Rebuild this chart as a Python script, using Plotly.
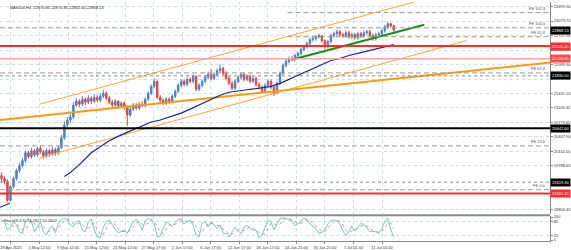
import plotly.graph_objects as go
import pandas as pd

# ---------------- data ----------------
first_open = 19569
closes = [19502, 19435, 19007, 19322, 19502, 19682, 19794, 19907, 20087, 19997,
          20132, 20042, 20177, 20109, 20019, 20132, 20064, 20154, 20087, 20199,
          20424, 20716, 20829, 20896, 21166, 21256, 21189, 21301, 21234, 21324,
          21256, 21346, 21279, 21369, 21436, 21324, 21234, 21166, 21256, 21144,
          21211, 21121, 20941, 21076, 21166, 21099, 21189, 21166, 21301, 21436,
          21593, 21706, 21346, 21279, 21211, 21301, 21256, 21369, 21481, 21616,
          21706, 21638, 21751, 21706, 21818, 21526, 21616, 21706, 21796, 21863,
          21773, 21863, 21953, 21998, 21886, 21773, 21661, 21549, 21706, 21796,
          21863, 21751, 21818, 21706, 21773, 21638, 21571, 21481, 21616, 21706,
          21571, 21436, 21661, 21886, 22066, 22156, 22223, 22201, 22291, 22336,
          22426, 22493, 22561, 22651, 22673, 22718, 22741, 22628, 22493, 22606,
          22741, 22786, 22830, 22763, 22741, 22808, 22718, 22763, 22696, 22786,
          22741, 22808, 22830, 22741, 22673, 22763, 22786, 22853, 22943, 23010,
          22965, 22868]
highs = [19637, 19547, 19480, 19345, 19547, 19727, 19862, 19974, 20132, 20132,
         20199, 20177, 20222, 20244, 20154, 20177, 20177, 20222, 20199, 20244,
         20492, 20806, 20896, 20964, 21234, 21324, 21301, 21369, 21346, 21391,
         21369, 21414, 21391, 21436, 21504, 21481, 21369, 21279, 21301, 21279,
         21256, 21256, 21166, 21121, 21211, 21211, 21234, 21256, 21346, 21481,
         21638, 21773, 21728, 21391, 21324, 21346, 21346, 21414, 21526, 21661,
         21751, 21751, 21796, 21796, 21863, 21841, 21661, 21751, 21841, 21931,
         21976, 21908, 21998, 22088, 22043, 21931, 21818, 21706, 21751, 21841,
         21908, 21908, 21863, 21863, 21818, 21818, 21683, 21616, 21661, 21751,
         21751, 21616, 21706, 21931, 22111, 22223, 22268, 22291, 22336, 22381,
         22471, 22538, 22606, 22696, 22718, 22763, 22786, 22763, 22651, 22651,
         22786, 22830, 22875, 22875, 22808, 22853, 22853, 22808, 22808, 22830,
         22830, 22853, 22875, 22875, 22786, 22808, 22830, 22898, 22988, 23055,
         23033, 22988]
lows = [19435, 19367, 18962, 18985, 19277, 19457, 19637, 19749, 19862, 19952,
        19952, 19997, 19997, 20064, 19952, 19974, 19997, 20019, 20019, 20042,
        20177, 20379, 20649, 20761, 20851, 21121, 21121, 21144, 21166, 21189,
        21189, 21211, 21234, 21234, 21324, 21279, 21189, 21099, 21121, 21099,
        21099, 21054, 20694, 20896, 21031, 21054, 21054, 21121, 21121, 21256,
        21391, 21549, 21301, 21211, 21166, 21166, 21189, 21211, 21324, 21436,
        21571, 21593, 21593, 21661, 21661, 21481, 21481, 21571, 21661, 21751,
        21728, 21728, 21818, 21908, 21841, 21728, 21616, 21504, 21504, 21661,
        21751, 21706, 21706, 21661, 21661, 21593, 21526, 21436, 21459, 21571,
        21526, 21369, 21414, 21616, 21841, 22021, 22111, 22156, 22156, 22246,
        22291, 22381, 22448, 22516, 22606, 22628, 22673, 22583, 22426, 22448,
        22561, 22696, 22741, 22718, 22696, 22696, 22673, 22673, 22651, 22651,
        22696, 22696, 22763, 22696, 22628, 22628, 22718, 22741, 22808, 22898,
        22920, 22830]

stoch_main = [87, 80, 43, 58, 80, 65, 36, 29, 80, 94,
              80, 36, 58, 80, 36, 22, 51, 60, 32, 72,
              90, 94, 90, 65, 58, 80, 84, 43, 36, 80,
              92, 43, 14, 11, 55, 80, 87, 65, 46, 32,
              36, 43, 29, 55, 80, 90, 72, 43, 84, 94,
              87, 72, 14, 18, 51, 80, 69, 60, 75, 88,
              92, 70, 80, 87, 65, 22, 14, 72, 80, 58,
              80, 65, 51, 65, 29, 29, 14, 36, 55, 40,
              29, 55, 65, 51, 43, 43, 10, 20, 50, 87,
              80, 45, 70, 93, 96, 94, 90, 82, 62, 70,
              85, 94, 90, 70, 60, 50, 30, 33, 45, 70,
              85, 87, 85, 70, 40, 20, 38, 62, 40, 58,
              72, 68, 50, 37, 38, 36, 29, 50, 80, 95,
              45, 14]

ma_bars = [21, 23, 26, 30, 33, 36, 40, 43, 46, 50, 53, 56, 60, 63, 66, 70, 73,
           76, 80, 83, 86, 90, 93, 96, 100, 103, 106, 110, 113, 116, 120, 123, 126, 131]
ma_vals = [19547, 19637, 19817, 20087, 20222, 20357, 20492, 20582, 20671, 20784,
           20829, 20896, 20986, 21076, 21166, 21301, 21391, 21459, 21504, 21526,
           21549, 21593, 21661, 21751, 21886, 21976, 22066, 22178, 22223, 22291,
           22358, 22403, 22448, 22538]

# trendlines: (bar, price) endpoints
upper_ch_bars, upper_ch_px = [12.8, 137.8], [21189, 23505]
lower_ch_bars, lower_ch_px = [12.8, 155.2], [19974, 22628]
mid_line_bars, mid_line_px = [-0.5, 183.2], [20829, 22133]
green_bars, green_px = [97.2, 141.2], [22201, 22988]
navy_bars, navy_px = [-0.5, 2.8], [18850, 18940]

# Fibonacci expansion levels
fe_names = ["FE 161.8", "FE 100.0", "FE 61.8", "FE 61.8", "FE 23.6", "FE 0.0"]
fe_prices = [23265, 22920, 22718, 21897, 20243, 19248]
fe_start_bar = [95.5, None, 95.5, None, None, None]

# horizontal price lines with axis boxes
solid_prices = [22505.45, 22220.05, 20642.60, 19165.15]
dotted_prices = [21830.50, 19419.30]
bid_price = 22868.13

price_ticks = [23399.50, 23073.75, 22747.90, 22415.40, 22089.30, 21757.05, 21431.20,
               21105.35, 20773.65, 20447.90, 20114.50, 19788.65, 18804.45]
date_ticks_bar = [3.17, 12.7, 22.23, 31.77, 41.3, 50.83, 60.37, 69.9, 79.43, 88.97,
                  98.5, 108.03, 117.57, 127.1]
date_labels = ["29 Apr 2025", "5 May 12:00", "9 May 12:00", "15 May 12:00", "21 May 12:00",
               "27 May 17:00", "2 Jun 17:00", "6 Jun 17:00", "12 Jun 17:00", "18 Jun 17:00",
               "24 Jun 21:00", "30 Jun 21:00", "7 Jul 01:00", "11 Jul 01:00"]

header = "NAS100,H4  22870.85 22870.85 22832.60 22868.13"
stoch_title = "Stoch(8,3,3) 14.2817 10.2607"

# ---------------- figure ----------------
bars = list(range(len(closes)))
opens = [first_open] + closes[:-1]
stoch_sig = pd.Series(stoch_main).rolling(3, min_periods=1).mean().tolist()

FONT = "Liberation Sans"
FS = 4
GRID = "#c6e3ea"
XR = [-0.5, 183.17]

fig = go.Figure()
fig.add_trace(go.Candlestick(
    x=bars, open=opens, high=highs, low=lows, close=closes,
    increasing=dict(line=dict(color="#4a84c8", width=1), fillcolor="#4a84c8"),
    decreasing=dict(line=dict(color="#e8443c", width=1), fillcolor="#e8443c"),
    whiskerwidth=0, xaxis="x", yaxis="y", hoverinfo="skip", showlegend=False))

def seg(xs, ys, color, width, dash="solid"):
    fig.add_trace(go.Scatter(x=xs, y=ys, mode="lines", xaxis="x", yaxis="y",
                             line=dict(color=color, width=width, dash=dash),
                             hoverinfo="skip", showlegend=False))

seg(mid_line_bars, mid_line_px, "#ff9a10", 2)
seg(upper_ch_bars, upper_ch_px, "#ffa528", 1)
seg(lower_ch_bars, lower_ch_px, "#ffa528", 1)
seg(ma_bars, ma_vals, "#23238f", 1.2)
seg(navy_bars, navy_px, "#23238f", 1.2)
seg(green_bars, green_px, "#159015", 2)

# stochastic
fig.add_trace(go.Scatter(x=bars, y=stoch_main, mode="lines", xaxis="x2", yaxis="y2",
                         line=dict(color="#66cfc7", width=1), hoverinfo="skip", showlegend=False))
fig.add_trace(go.Scatter(x=bars, y=stoch_sig, mode="lines", xaxis="x2", yaxis="y2",
                         line=dict(color="#f08a8a", width=1, dash="dot"), hoverinfo="skip", showlegend=False))

shapes = []
annotations = []
for name, p, sb in zip(fe_names, fe_prices, fe_start_bar):
    if sb is None:
        shapes.append(dict(type="line", xref="paper", yref="y", x0=0, x1=1, y0=p, y1=p,
                           line=dict(color="#9a9a9a", width=1, dash="5px,3px")))
    else:
        shapes.append(dict(type="line", xref="x", yref="y", x0=sb, x1=XR[1], y0=p, y1=p,
                           line=dict(color="#9a9a9a", width=1, dash="5px,3px")))
    annotations.append(dict(xref="paper", yref="y", x=1, y=p, xanchor="right", yanchor="bottom",
                            xshift=-2, text=name, showarrow=False,
                            font=dict(family=FONT, size=FS, color="#555555")))

solid_colors = ["#ff2a2a", "#f7a3a3", "#000000", "#ff2a2a"]
solid_widths = [2, 1.5, 2, 2]
box_colors = ["#ff2a2a", "#ff4a4a", "#000000", "#ff2a2a"]
for p, c, w, bc in zip(solid_prices, solid_colors, solid_widths, box_colors):
    shapes.append(dict(type="line", xref="paper", yref="y", x0=0, x1=1, y0=p, y1=p,
                       line=dict(color=c, width=w)))
    annotations.append(dict(xref="paper", yref="y", x=1, y=p, xanchor="left", yanchor="middle",
                            xshift=0, text=f"{p:.2f}", showarrow=False, bgcolor=bc, borderpad=1,
                            font=dict(family=FONT, size=FS, color="white")))
for p in dotted_prices:
    shapes.append(dict(type="line", xref="paper", yref="y", x0=0, x1=1, y0=p, y1=p,
                       line=dict(color="#8a8a8a", width=1, dash="dot")))
    annotations.append(dict(xref="paper", yref="y", x=1, y=p, xanchor="left", yanchor="middle",
                            text=f"{p:.2f}", showarrow=False, bgcolor="#000000", borderpad=1,
                            font=dict(family=FONT, size=FS, color="white")))
annotations.append(dict(xref="paper", yref="y", x=1, y=bid_price, xanchor="left", yanchor="middle",
                        text=f"{bid_price:.2f}", showarrow=False, bgcolor="#000000", borderpad=1,
                        font=dict(family=FONT, size=FS, color="white")))

# pane separator
shapes.append(dict(type="line", xref="paper", yref="paper", x0=0, x1=1, y0=0.1079, y1=0.1079,
                   line=dict(color="#8c8c8c", width=2)))

annotations.append(dict(xref="paper", yref="paper", x=0.014, y=0.995, xanchor="left", yanchor="top",
                        text=header, showarrow=False, font=dict(family=FONT, size=FS, color="#222222")))
annotations.append(dict(xref="paper", yref="paper", x=0.004, y=0.103, xanchor="left", yanchor="top",
                        text=stoch_title, showarrow=False, font=dict(family=FONT, size=FS, color="#333333")))

fig.update_layout(
    width=571, height=250, margin=dict(l=0, r=20, t=0, b=9),
    paper_bgcolor="white", plot_bgcolor="white",
    font=dict(family=FONT, size=FS, color="#333333"),
    shapes=shapes, annotations=annotations, showlegend=False,
    xaxis=dict(domain=[0, 1], anchor="y", range=XR, rangeslider=dict(visible=False),
               tickvals=date_ticks_bar, ticktext=date_labels, showticklabels=False, ticks="",
               showgrid=True, gridcolor=GRID, griddash="dot", gridwidth=1, zeroline=False),
    xaxis2=dict(domain=[0, 1], anchor="y2", range=XR, matches="x",
                tickvals=date_ticks_bar, ticktext=date_labels, ticks="outside", ticklen=2,
                tickcolor="#888888", tickfont=dict(family=FONT, size=FS, color="#333333"),
                showgrid=True, gridcolor=GRID, griddash="dot", gridwidth=1, zeroline=False,
                showline=True, linecolor="#888888", linewidth=1),
    yaxis=dict(domain=[0.112, 1], anchor="x", side="right", range=[18692.3, 23505.2],
               tickvals=price_ticks, ticktext=[f"{v:.2f}" for v in price_ticks],
               ticks="outside", ticklen=2, tickcolor="#888888",
               tickfont=dict(family=FONT, size=FS, color="#333333"),
               showgrid=True, gridcolor=GRID, griddash="dot", gridwidth=1, zeroline=False,
               showline=True, linecolor="#888888", linewidth=1),
    yaxis2=dict(domain=[0, 0.104], anchor="x2", side="right", range=[-4, 104],
                tickvals=[0, 20, 80, 100], ticktext=["0", "20", "80", "100"],
                ticks="outside", ticklen=2, tickcolor="#888888",
                tickfont=dict(family=FONT, size=FS, color="#333333"),
                showgrid=True, gridcolor=GRID, griddash="dot", gridwidth=1, zeroline=False,
                showline=True, linecolor="#888888", linewidth=1),
)

fig.write_html("out.html")
